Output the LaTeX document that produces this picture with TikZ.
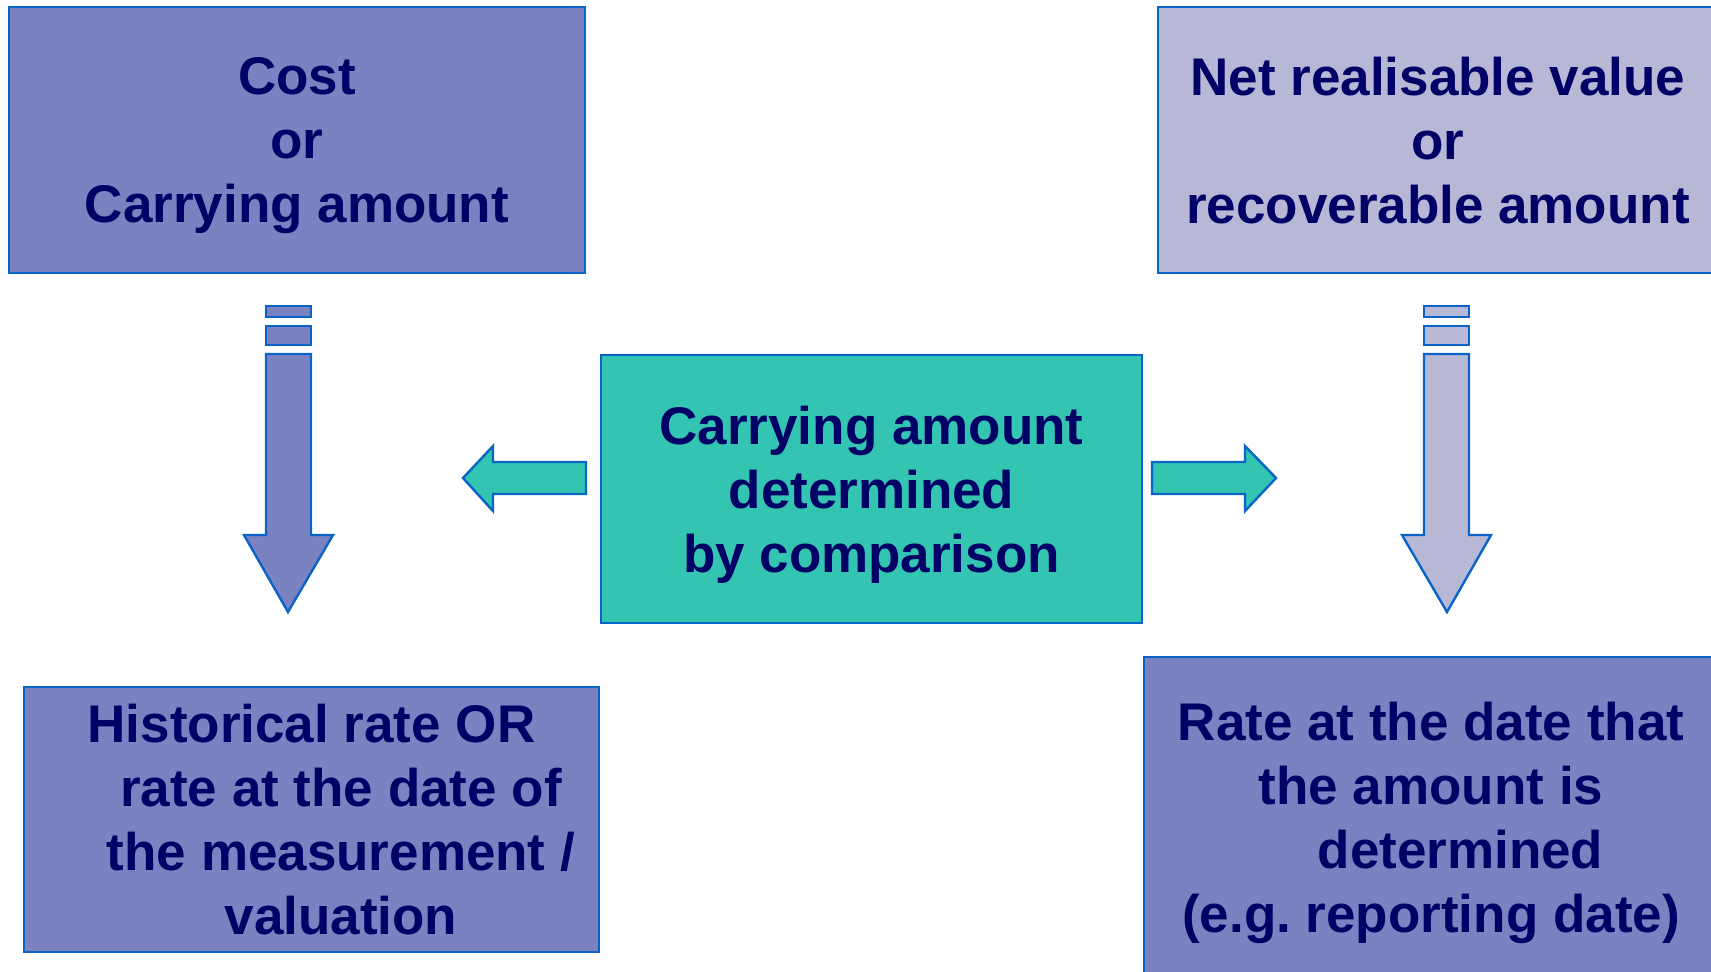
\documentclass[tikz,border=0pt]{standalone}
\usepackage{fontspec}
\setmainfont{Liberation Sans}
\frenchspacing
\definecolor{purp}{HTML}{7A82C2}
\definecolor{lite}{HTML}{B7B8D6}
\definecolor{teal2}{HTML}{33C4B2}
\definecolor{edge}{HTML}{0A64C8}
\definecolor{txt}{HTML}{000066}
\begin{document}
\begin{tikzpicture}[x=0.5pt,y=-0.5pt,
  box/.style={draw=edge, line width=1pt, align=center, text=txt, inner sep=0pt,
    text depth=0pt, font=\bfseries\fontsize{26.5}{32}\selectfont},
  blk/.style={draw=edge, line width=1.2pt, line join=miter}]
\useasboundingbox (0,0) rectangle (1711,971);
\node[box, fill=purp, minimum width=288pt, minimum height=133pt] (cost) at (297,140) {Cost\\or\\Carrying amount};
\node[box, fill=lite, minimum width=280pt, minimum height=133pt] (nrv) at (1438,140) {Net realisable value\\or\\recoverable amount};
\node[box, fill=teal2, minimum width=270.5pt, minimum height=134pt] (cmp) at (871.5,489) {Carrying amount\\determined\\by comparison};
\node[box, fill=purp, minimum width=287.5pt, minimum height=132.5pt] (hist) at (311.5,819.5) {Historical rate OR\\\hspace*{29.5pt}rate at the date of\\\hspace*{29.5pt}the measurement /\\\hspace*{29.5pt}valuation};
\node[box, fill=purp, minimum width=287pt, minimum height=160pt] (rate) at (1431,817) {Rate at the date that\\the amount is\\\hspace*{29.5pt}determined\\(e.g. reporting date)};
% left down arrow
\draw[blk, fill=purp] (266,306) rectangle (311,317);
\draw[blk, fill=purp] (266,326) rectangle (311,345);
\draw[blk, fill=purp] (266,354) -- (311,354) -- (311,535) -- (333,535) -- (288,612) -- (244,535) -- (266,535) -- cycle;
% right down arrow
\draw[blk, fill=lite] (1424,306) rectangle (1469,317);
\draw[blk, fill=lite] (1424,326) rectangle (1469,345);
\draw[blk, fill=lite] (1424,354) -- (1469,354) -- (1469,535) -- (1491,535) -- (1447,612) -- (1402,535) -- (1424,535) -- cycle;
% side arrows
\draw[blk, fill=teal2] (586,462) -- (493,462) -- (493,446) -- (463,478) -- (493,511) -- (493,494) -- (586,494) -- cycle;
\draw[blk, fill=teal2] (1152,462) -- (1245,462) -- (1245,446) -- (1276,478) -- (1245,511) -- (1245,494) -- (1152,494) -- cycle;
\end{tikzpicture}
\end{document}
